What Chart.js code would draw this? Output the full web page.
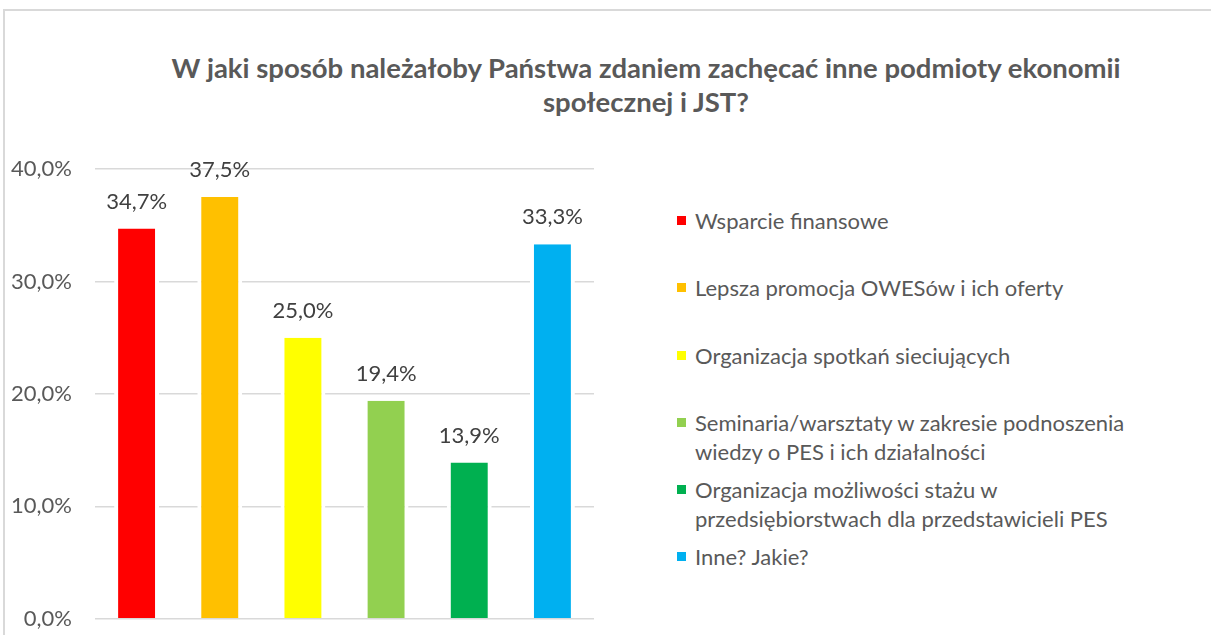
<!DOCTYPE html>
<html>
<head>
<meta charset="utf-8">
<script src="https://cdn.jsdelivr.net/npm/chart.js@4/dist/chart.umd.min.js"></script>
<style>
  html, body { margin:0; padding:0; background:#fff; overflow:hidden; }
  body { width:1211px; height:635px; position:relative; font-family:Lato, "Noto Sans", sans-serif; }
  #edgeTop { position:absolute; left:3px; top:9px; width:1208px; height:2px; background:#d9d9d9; }
  #edgeLeft { position:absolute; left:3px; top:9px; width:2px; height:626px; background:#d9d9d9; }
  #title { position:absolute; left:0; width:1292px; top:51px; text-align:center; font-weight:bold; font-size:27.5px; line-height:34px; color:#595959; }
  #wrap { position:absolute; left:0; top:0; width:600px; height:655px; }
  #legend { position:absolute; left:677px; top:0; color:#595959; font-size:22px; line-height:29px; }
  .item { position:absolute; left:0; white-space:nowrap; }
  .item i { position:absolute; left:0; top:10px; width:9px; height:9px; }
  .item span { display:block; margin-left:18px; }
</style>
</head>
<body>
<div id="edgeTop"></div>
<div id="edgeLeft"></div>
<div id="title">W jaki sposób należałoby Państwa zdaniem zachęcać inne podmioty ekonomii<br>społecznej i JST?</div>
<div id="wrap"><canvas id="chart"></canvas></div>
<div id="legend"></div>
<script>
const categories = [
  ["Wsparcie finansowe"],
  ["Lepsza promocja OWESów i ich oferty"],
  ["Organizacja spotkań sieciujących"],
  ["Seminaria/warsztaty w zakresie podnoszenia", "wiedzy o PES i ich działalności"],
  ["Organizacja możliwości stażu w", "przedsiębiorstwach dla przedstawicieli PES"],
  ["Inne? Jakie?"]
];
const values = [34.7, 37.5, 25.0, 19.4, 13.9, 33.3];
const colors = ["#ff0000", "#ffc000", "#ffff00", "#92d050", "#00b050", "#00b0f0"];
const yTicks = [0, 10, 20, 30, 40];

// legend row tops (layout only)
const legendTops = [206, 273, 341, 408, 475, 542];

function qs(id){ return document.getElementById(id); }
function pct(v){ return v.toFixed(1).replace(".", ",") + "%"; }

const valueLabels = {
  id: "valueLabels",
  afterDatasetsDraw(chart){
    const ctx = chart.ctx;
    const meta = chart.getDatasetMeta(0);
    ctx.save();
    ctx.font = "22px Lato";
    ctx.fillStyle = "#404040";
    ctx.textAlign = "center";
    ctx.textBaseline = "middle";
    meta.data.forEach((bar, i) => {
      ctx.fillText(pct(values[i]), bar.x, bar.y - 27);
    });
    ctx.restore();
  }
};

new Chart(qs("chart"), {
  type: "bar",
  data: {
    labels: categories.map(c => c.join(" ")),
    datasets: [{
      data: values,
      backgroundColor: colors,
      borderColor: "#ffffff",
      borderWidth: { left: 4, right: 4, top: 0, bottom: 0 },
      borderSkipped: false,
      barPercentage: 0.54,
      categoryPercentage: 1
    }]
  },
  options: {
    responsive: true,
    maintainAspectRatio: false,
    animation: false,
    layout: { padding: { top: 169, bottom: 16, left: 0, right: 6 } },
    plugins: { legend: { display: false }, tooltip: { enabled: false } },
    scales: {
      x: { display: false },
      y: {
        min: 0, max: 40,
        afterFit(s){ s.width = 95; },
        afterBuildTicks(s){ s.ticks = yTicks.map(v => ({ value: v })); },
        border: { display: false },
        grid: { color: "#d9d9d9", lineWidth: 1.5, drawTicks: false },
        ticks: { padding: 23, color: "#595959", font: { family: "Lato", size: 22 }, callback: v => pct(v) }
      }
    }
  },
  plugins: [valueLabels]
});

categories.forEach((lines, i) => {
  const d = document.createElement("div");
  d.className = "item";
  d.style.top = legendTops[i] + "px";
  d.innerHTML = `<i style="background:${colors[i]}"></i><span>${lines.join("<br>")}</span>`;
  qs("legend").appendChild(d);
});
</script>
</body>
</html>
